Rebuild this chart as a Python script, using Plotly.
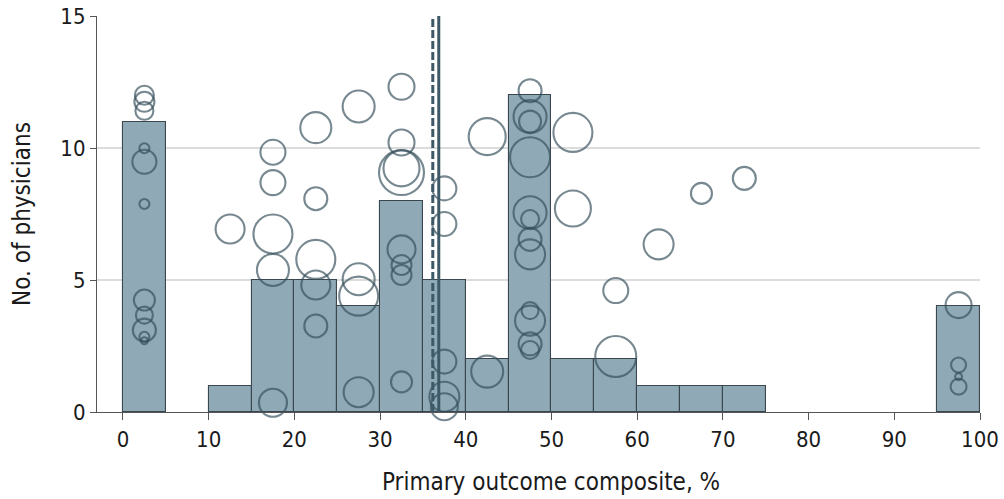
import plotly.graph_objects as go

# Histogram bins (lower edges, width 5) and counts
bin_lefts = [0, 5, 10, 15, 20, 25, 30, 35, 40, 45, 50, 55, 60, 65, 70, 75, 80, 85, 90, 95]
bin_counts = [11, 0, 1, 5, 5, 4, 8, 5, 2, 12, 2, 2, 1, 1, 1, 0, 0, 0, 0, 4]
bin_width = 5

# Individual physicians (bubble overlay): composite %, y position, bubble value
phys_x = ([2.5] * 11 + [12.5] + [17.5] * 5 + [22.5] * 5 + [27.5] * 4 + [32.5] * 8 +
          [37.5] * 5 + [42.5] * 2 + [47.5] * 12 + [52.5] * 2 + [57.5] * 2 +
          [62.5, 67.5, 72.5] + [97.5] * 4)
phys_y = [12.0, 11.75, 11.41, 9.99, 9.48, 7.88, 4.24, 3.67, 3.1, 2.85, 2.7,
          6.93,
          9.84, 8.69, 6.74, 5.38, 0.35,
          10.77, 8.08, 5.78, 4.81, 3.26,
          11.57, 5.03, 4.39, 0.75,
          12.32, 10.21, 9.23, 9.07, 6.16, 5.57, 5.19, 1.14,
          8.47, 7.12, 1.91, 0.58, 0.2,
          10.43, 1.53,
          12.17, 11.19, 11.0, 9.65, 7.55, 7.31, 6.54, 5.97, 3.84, 3.46, 2.58, 2.35,
          10.59, 7.71,
          4.6, 2.1,
          6.35, 8.28, 8.85,
          4.05, 1.78, 1.34, 0.96]
phys_value = [19, 20, 18, 10, 24, 10, 21, 17, 23, 10, 7,
              29,
              25, 25, 39, 32, 28,
              31, 23, 39, 29, 23,
              32, 32, 39, 30,
              26, 26, 36, 45, 28, 20, 20, 21,
              24, 24, 24, 30, 27,
              37, 32,
              23, 33, 22, 40, 33, 18, 23, 30, 17, 30, 23, 18,
              39, 36,
              25, 41,
              30, 21, 23,
              26, 15, 7, 16]

median_value = 36.15
mean_value = 36.85

x_ticks = [0, 10, 20, 30, 40, 50, 60, 70, 80, 90, 100]
y_ticks = [0, 5, 10, 15]

FONT = "DejaVu Sans Condensed, Liberation Sans Narrow, Roboto, sans-serif"
DARK = "#3d5967"

nz = [i for i, c in enumerate(bin_counts) if c > 0]

fig = go.Figure()

fig.add_trace(go.Bar(
    x=[bin_lefts[i] + bin_width / 2 for i in nz],
    y=[bin_counts[i] for i in nz],
    width=bin_width,
    marker=dict(color="#8fa9b6", line=dict(color="#3a474e", width=1.1)),
    hoverinfo="skip",
    showlegend=False,
))

fig.add_trace(go.Scatter(
    x=phys_x, y=phys_y, mode="markers",
    marker=dict(symbol="circle", size=phys_value, sizemode="diameter", sizeref=1,
                color="rgba(0,0,0,0)",
                line=dict(color="rgba(52,78,90,0.95)", width=2.1)),
    showlegend=False, cliponaxis=False,
))

fig.add_shape(type="line", xref="x", yref="y", x0=median_value, x1=median_value,
              y0=0, y1=15, line=dict(color=DARK, width=3, dash="8px,3px"))
fig.add_shape(type="line", xref="x", yref="y", x0=mean_value, x1=mean_value,
              y0=0, y1=15, line=dict(color=DARK, width=3))

fig.add_annotation(text="Primary outcome composite, %", xref="paper", yref="paper",
                   x=0.514, y=-0.137, xanchor="center", yanchor="top",
                   showarrow=False, font=dict(size=24))

fig.update_layout(
    width=1004, height=499,
    margin=dict(l=97, r=24, t=16, b=87, autoexpand=False),
    plot_bgcolor="white", paper_bgcolor="white",
    bargap=0,
    font=dict(family=FONT, size=22, color="#1a1a1a"),
)
fig.update_xaxes(
    range=[-3.03, 100], tickvals=x_ticks, ticks="outside", ticklen=7,
    tickcolor="#555", showline=True, linecolor="#555", linewidth=1.2,
    showgrid=False, zeroline=False, automargin=False,
    tickfont=dict(size=22),
)
fig.update_yaxes(
    range=[0, 15], tickvals=y_ticks, ticks="outside", ticklen=6,
    tickcolor="#555", showline=True, linecolor="#555", linewidth=1.2,
    showgrid=True, gridcolor="#dcdcdc", gridwidth=2, zeroline=False, automargin=False,
    title=dict(text="No. of physicians", font=dict(size=24), standoff=22),
    tickfont=dict(size=22),
)

fig.write_html("out.html")
